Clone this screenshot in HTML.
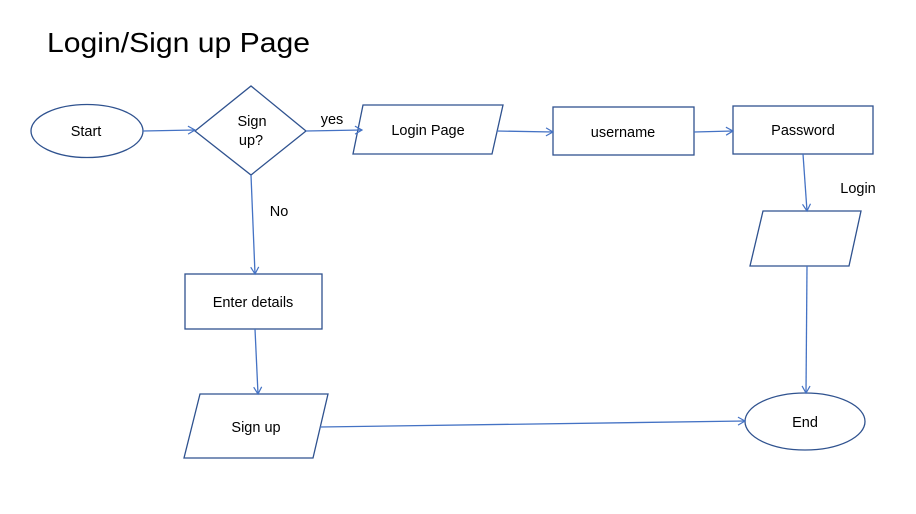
<!DOCTYPE html>
<html><head><meta charset="utf-8"><style>
html,body{margin:0;padding:0;background:#fff;}
svg{display:block;}
text{font-family:"Liberation Sans",sans-serif;fill:#000;}
</style></head><body>
<svg width="916" height="514" viewBox="0 0 916 514" xmlns="http://www.w3.org/2000/svg">
<defs>
<marker id="a" markerWidth="10" markerHeight="10" refX="8" refY="5" orient="auto" markerUnits="userSpaceOnUse">
<path d="M1,1 L8,5 L1,9" fill="none" stroke="#4472c4" stroke-width="1.2"/>
</marker>
</defs>
<rect width="916" height="514" fill="#fff"/>
<text x="47" y="52" font-size="28" textLength="263" lengthAdjust="spacingAndGlyphs">Login/Sign up Page</text>
<g fill="none" stroke="#2f528f" stroke-width="1.3">
<ellipse cx="87" cy="131" rx="56" ry="26.5"/>
<polygon points="195,131 251,86 306,131 251,175"/>
<polygon points="363,105 503,105 492,154 353,154"/>
<rect x="553" y="107" width="141" height="48"/>
<rect x="733" y="106" width="140" height="48"/>
<polygon points="763,211 861,211 849,266 750,266"/>
<rect x="185" y="274" width="137" height="55"/>
<polygon points="200,394 328,394 313,458 184,458"/>
<ellipse cx="805" cy="421.5" rx="60" ry="28.5"/>
</g>
<g fill="none" stroke="#4472c4" stroke-width="1.3" marker-end="url(#a)">
<line x1="143" y1="131" x2="195" y2="130"/>
<line x1="306" y1="131" x2="362" y2="130"/>
<line x1="497" y1="131" x2="553" y2="132"/>
<line x1="694" y1="132" x2="733" y2="131"/>
<line x1="803" y1="154" x2="807" y2="211"/>
<line x1="251" y1="175" x2="255" y2="274"/>
<line x1="255" y1="329" x2="258" y2="394"/>
<line x1="807" y1="266" x2="806" y2="393"/>
<line x1="320" y1="427" x2="745" y2="421"/>
</g>
<g font-size="14.5" text-anchor="middle">
<text x="86" y="136">Start</text>
<text x="252" y="126">Sign</text>
<text x="251" y="145">up?</text>
<text x="428" y="135">Login Page</text>
<text x="623" y="137">username</text>
<text x="803" y="135">Password</text>
<text x="253" y="307">Enter details</text>
<text x="256" y="432">Sign up</text>
<text x="805" y="427">End</text>
<text x="332" y="124">yes</text>
<text x="279" y="216">No</text>
<text x="858" y="193">Login</text>
</g>
</svg>
</body></html>
